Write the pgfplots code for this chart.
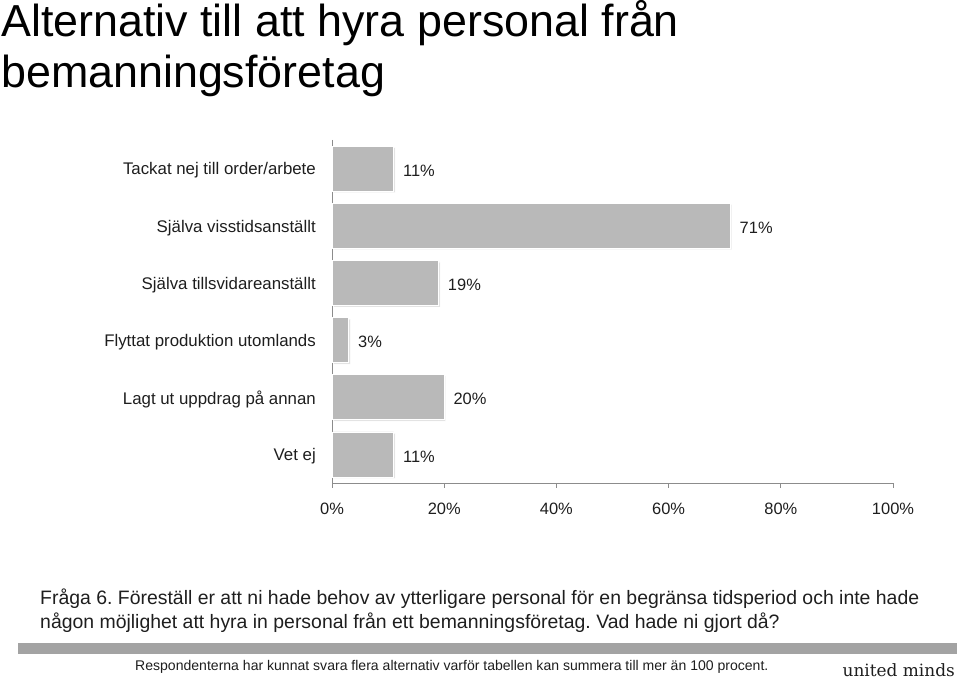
\documentclass[border=0pt]{standalone}
\usepackage{fontspec}
\setmainfont{Liberation Sans}
\newfontfamily\umfont{DejaVu Serif}
\usepackage{pgfplots}
\usetikzlibrary{shadows}
\pgfplotsset{compat=1.18}
\definecolor{barcol}{HTML}{B9B9B9}
\definecolor{axgray}{HTML}{8C8C8C}
\definecolor{footgray}{HTML}{A3A3A3}
\definecolor{txt}{HTML}{1E1E1E}
\frenchspacing
\begin{document}
\begin{tikzpicture}[x=1bp,y=1bp]
\path[use as bounding box] (0,0) rectangle (959,681);
\begin{axis}[
  at={(332bp,198bp)}, anchor=south west,
  width=561bp, height=343bp, scale only axis,
  xbar, bar width=45bp,
  xmin=0, xmax=100,
  ymin=-0.5, ymax=5.5, y dir=reverse,
  axis x line*=bottom, axis y line*=left,
  axis line style={draw=axgray, line width=0.8bp, -},
  xtick={0,20,...,100},
  xticklabels={0\%,20\%,40\%,60\%,80\%,100\%},
  tick align=outside,
  major tick length=5bp,
  every tick/.style={axgray, line width=0.8bp},
  xticklabel style={font=\fontsize{16.5}{19}\selectfont\color{txt}, inner sep=0pt, yshift=-15bp},
  ytick={0,1,2,3,4,5},
  yticklabels={Tackat nej till order/arbete, Själva visstidsanställt, Själva tillsvidareanställt, Flyttat produktion utomlands, Lagt ut uppdrag på annan, Vet ej},
  y tick style={draw=none},
  yticklabel style={font=\fontsize{16.9}{19}\selectfont\color{txt}, inner sep=0pt, xshift=-11bp, yshift=-2bp},
  extra y ticks={-0.5,0.5,1.5,2.5,3.5,4.5,5.5},
  extra y tick labels={},
  extra y tick style={major tick length=7bp, tick style={axgray, line width=0.8bp, draw=axgray}},
  /pgf/number format/assume math mode=true,
  nodes near coords={\pgfmathprintnumber{\pgfplotspointmeta}\%},
  point meta=x,
  every node near coord/.append style={anchor=west, inner sep=0pt, xshift=9bp, yshift=-2bp, font=\fontsize{16.5}{19}\selectfont\color{txt}},
  clip=false,
]
\addplot[fill=barcol, draw=white, line width=0.8bp, drop shadow={shadow xshift=1.5bp, shadow yshift=-1.5bp, fill=black!22}] coordinates {
  (11,0) (71,1) (19,2) (3,3) (20,4) (11,5)
};
\end{axis}
\node[anchor=base west, inner sep=0pt, font=\fontsize{45}{52}\selectfont] at (1,644) {Alternativ till att hyra personal från};
\node[anchor=base west, inner sep=0pt, font=\fontsize{45}{52}\selectfont] at (1,593) {bemanningsföretag};
\node[anchor=base west, inner sep=0pt, font=\fontsize{19.5}{22}\selectfont\color{txt}] at (40,76) {Fråga 6. Föreställ er att ni hade behov av ytterligare personal för en begränsa tidsperiod och inte hade};
\node[anchor=base west, inner sep=0pt, font=\fontsize{19.5}{22}\selectfont\color{txt}] at (40,52) {någon möjlighet att hyra in personal från ett bemanningsföretag. Vad hade ni gjort då?};
\fill[footgray] (18,27) rectangle (957,38);
\node[anchor=base west, inner sep=0pt, font=\fontsize{14.1}{16}\selectfont\color{txt}] at (135,10) {Respondenterna har kunnat svara flera alternativ varför tabellen kan summera till mer än 100 procent.};
\node[anchor=base east, inner sep=0pt, font=\umfont\fontsize{17}{20}\selectfont\color{txt}] at (955,4) {united minds};
\end{tikzpicture}
\end{document}
